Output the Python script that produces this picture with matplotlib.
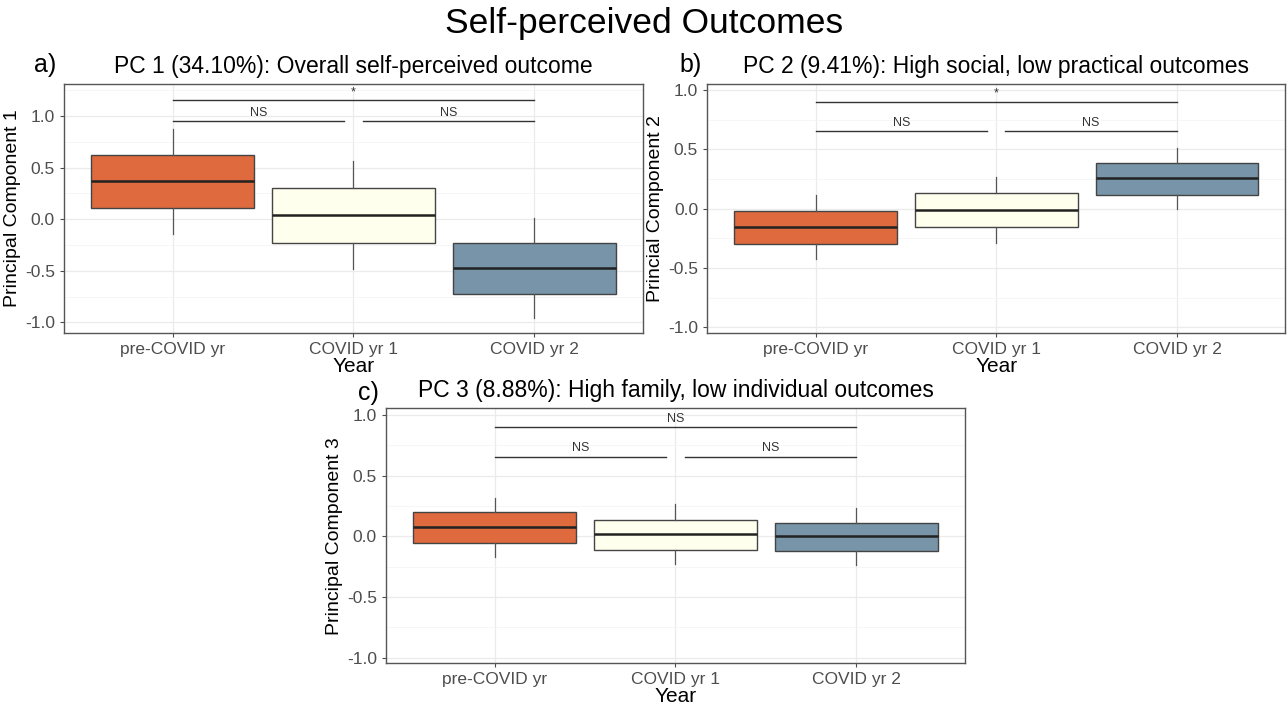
import matplotlib.pyplot as plt
from matplotlib.ticker import MultipleLocator

plt.rcParams['font.family'] = ['Liberation Sans', 'DejaVu Sans']

years = ['pre-COVID yr', 'COVID yr 1', 'COVID yr 2']
box_colors = ['#DE6A3E', '#FFFFEE', '#7894A9']

# whisker low, Q1, median, Q3, whisker high per year
pc1_stats = [[-0.14, 0.11, 0.37, 0.62, 0.87],
             [-0.48, -0.23, 0.04, 0.30, 0.56],
             [-0.96, -0.72, -0.47, -0.23, 0.01]]
pc2_stats = [[-0.42, -0.295, -0.155, -0.02, 0.115],
             [-0.29, -0.155, -0.01, 0.13, 0.265],
             [0.0, 0.118, 0.255, 0.38, 0.51]]
pc3_stats = [[-0.17, -0.052, 0.077, 0.197, 0.315],
             [-0.23, -0.113, 0.018, 0.138, 0.267],
             [-0.24, -0.124, -0.001, 0.11, 0.23]]

# pairwise tests: (first, second, label)
pc1_tests = [(1, 3, '*'), (1, 1.95, 'NS'), (2.05, 3, 'NS')]
pc2_tests = [(1, 3, '*'), (1, 1.95, 'NS'), (2.05, 3, 'NS')]
pc3_tests = [(1, 3, 'NS'), (1, 1.95, 'NS'), (2.05, 3, 'NS')]
pc1_test_y = [1.15, 0.95, 0.95]
pc2_test_y = [0.90, 0.65, 0.65]
pc3_test_y = [0.90, 0.655, 0.655]


def draw_panel(ax, stats, tests, test_y, title, ylabel, ylim):
    boxes = []
    for s, name in zip(stats, years):
        boxes.append({'whislo': s[0], 'q1': s[1], 'med': s[2], 'q3': s[3],
                      'whishi': s[4], 'fliers': [], 'label': name})
    art = ax.bxp(boxes, positions=[1, 2, 3], widths=0.9, patch_artist=True,
                 showcaps=False, showfliers=False,
                 boxprops=dict(edgecolor='#444444', linewidth=1.0),
                 whiskerprops=dict(color='#555555', linewidth=0.9),
                 medianprops=dict(color='#222222', linewidth=1.8))
    for patch, c in zip(art['boxes'], box_colors):
        patch.set_facecolor(c)

    for (x1, x2, lab), y in zip(tests, test_y):
        ax.plot([x1, x2], [y, y], color='#333333', lw=1.0)
        ax.text((x1 + x2) / 2, y + 0.02, lab, ha='center', va='bottom',
                fontsize=9, color='#333333')

    ax.set_xlim(0.4, 3.6)
    ax.set_ylim(*ylim)
    ax.yaxis.set_major_locator(MultipleLocator(0.5))
    ax.yaxis.set_minor_locator(MultipleLocator(0.25))
    ax.set_axisbelow(True)
    ax.grid(True, which='major', color='#EBEBEB', lw=0.9)
    ax.grid(True, which='minor', axis='y', color='#F3F3F3', lw=0.5)
    ax.tick_params(axis='both', which='major', labelsize=12.5, colors='#4d4d4d',
                   length=3, width=0.8, labelcolor='#4d4d4d')
    ax.tick_params(axis='y', which='minor', length=0)
    ax.set_yticks([-1.0, -0.5, 0.0, 0.5, 1.0])
    ax.set_yticklabels(['-1.0', '-0.5', '0.0', '0.5', '1.0'])
    ax.set_xticks([1, 2, 3])
    ax.set_xticklabels(years)
    for sp in ax.spines.values():
        sp.set_color('#555555')
        sp.set_linewidth(1.0)
    ax.set_xlabel('Year', fontsize=15, labelpad=0)
    ax.set_ylabel(ylabel, fontsize=14, labelpad=3)
    ax.set_title(title, fontsize=16.5, pad=8)


fig = plt.figure(figsize=(12.88, 7.05), dpi=100)
ax_a = fig.add_axes([0.0497, 0.528, 0.4495, 0.353])
ax_b = fig.add_axes([0.549, 0.528, 0.449, 0.353])
ax_c = fig.add_axes([0.2997, 0.059, 0.4495, 0.362])

draw_panel(ax_a, pc1_stats, pc1_tests, pc1_test_y,
           'PC 1 (34.10%): Overall self-perceived outcome',
           'Principal Component 1', (-1.10, 1.31))
draw_panel(ax_b, pc2_stats, pc2_tests, pc2_test_y,
           'PC 2 (9.41%): High social, low practical outcomes',
           'Princial Component 2', (-1.045, 1.05))
draw_panel(ax_c, pc3_stats, pc3_tests, pc3_test_y,
           'PC 3 (8.88%): High family, low individual outcomes',
           'Principal Component 3', (-1.048, 1.056))

fig.text(0.5, 0.966, 'Self-perceived Outcomes', ha='center', va='center', fontsize=25.5)
fig.text(0.035, 0.908, 'a)', ha='center', va='center', fontsize=18)
fig.text(0.536, 0.908, 'b)', ha='center', va='center', fontsize=18)
fig.text(0.286, 0.443, 'c)', ha='center', va='center', fontsize=18)

fig.savefig('out.png', dpi=100)
